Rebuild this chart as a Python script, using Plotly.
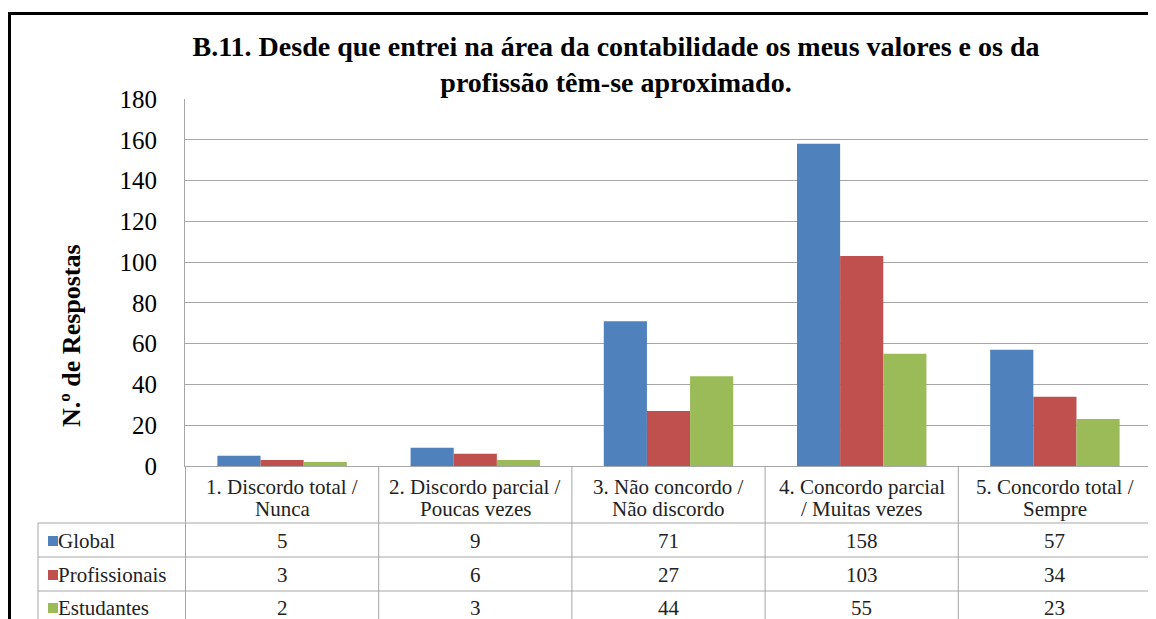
import plotly.graph_objects as go

W, H = 1156, 619
OFF = 8  # page body margin around the plot div

categorias = ["1. Discordo total /<br>Nunca",
              "2. Discordo parcial /<br>Poucas vezes",
              "3. Não concordo /<br>Não discordo",
              "4. Concordo parcial<br>/ Muitas vezes",
              "5. Concordo total /<br>Sempre"]
series = ["Global", "Profissionais", "Estudantes"]
global_vals = [5, 9, 71, 158, 57]
profissionais = [3, 6, 27, 103, 34]
estudantes = [2, 3, 44, 55, 23]
cores = ["#4F81BD", "#C0504D", "#9BBB59"]
titulo = "B.11. Desde que entrei na área da contabilidade os meus valores e os da<br>profissão têm-se aproximado."

valores = [global_vals, profissionais, estudantes]

# page pixel -> paper fraction (figure has no margins)
def px_x(p):
    return (p - OFF) / W

def px_y(p):
    return 1 - (p - OFF) / H

grelha = "#A6A6A6"
serif = "Liberation Serif, Times New Roman, serif"
fs_tab = 21

fig = go.Figure()
for nome, vals, cor in zip(series, valores, cores):
    fig.add_trace(go.Bar(x=categorias, y=vals, name=nome, marker_color=cor,
                         marker_line_width=0))

shapes = []
annotations = []

# table: horizontal lines
for yy in [523, 557, 591]:
    shapes.append(dict(type="line", xref="paper", yref="paper",
                       x0=px_x(38), x1=px_x(1152), y0=px_y(yy), y1=px_y(yy),
                       line=dict(color=grelha, width=1)))
# left edge of row header column
shapes.append(dict(type="line", xref="paper", yref="paper",
                   x0=px_x(38), x1=px_x(38), y0=px_y(523), y1=px_y(640),
                   line=dict(color=grelha, width=1)))
# vertical lines between categories
for i in range(len(categorias) + 1):
    shapes.append(dict(type="line", xref="x", yref="paper",
                       x0=i - 0.5, x1=i - 0.5, y0=px_y(466), y1=px_y(640),
                       line=dict(color=grelha, width=1)))

# category header text, one annotation per line
for i, c in enumerate(categorias):
    for linha, yy in zip(c.split("<br>"), [487, 509]):
        annotations.append(dict(x=i, xref="x", y=px_y(yy), yref="paper",
                                text=linha, showarrow=False,
                                xanchor="center", yanchor="middle",
                                font=dict(family=serif, size=fs_tab, color="#222")))

# rows
linhas_y = [541, 575, 608]
for nome, vals, cor, yy in zip(series, valores, cores, linhas_y):
    shapes.append(dict(type="rect", xref="paper", yref="paper",
                       x0=px_x(48), x1=px_x(58), y0=px_y(yy - 5), y1=px_y(yy + 5),
                       fillcolor=cor, line=dict(width=0)))
    annotations.append(dict(x=px_x(56), xref="paper", y=px_y(yy), yref="paper",
                            text=nome, showarrow=False, xanchor="left", yanchor="middle",
                            font=dict(family=serif, size=fs_tab, color="#222")))
    for i, v in enumerate(vals):
        annotations.append(dict(x=i, xref="x", y=px_y(yy), yref="paper",
                                text=str(v), showarrow=False,
                                xanchor="center", yanchor="middle",
                                font=dict(family=serif, size=fs_tab, color="#222")))

# y axis title
annotations.append(dict(x=px_x(71), xref="paper", y=px_y(336), yref="paper",
                        text="<b>N.º de Respostas</b>", showarrow=False,
                        textangle=-90, xanchor="center", yanchor="middle",
                        font=dict(family=serif, size=26, color="#000")))

# outer frame
shapes.append(dict(type="line", xref="paper", yref="paper",
                   x0=px_x(9.5), x1=px_x(1170), y0=px_y(13.5), y1=px_y(13.5),
                   line=dict(color="#000", width=3)))
shapes.append(dict(type="line", xref="paper", yref="paper",
                   x0=px_x(9.5), x1=px_x(9.5), y0=px_y(12), y1=px_y(640),
                   line=dict(color="#000", width=3)))

fig.update_layout(
    width=W, height=H,
    margin=dict(l=0, r=0, t=0, b=0, pad=0, autoexpand=False),
    paper_bgcolor="white", plot_bgcolor="white",
    showlegend=False,
    barmode="group", bargap=0.33, bargroupgap=0,
    title=dict(text="<b>" + titulo + "</b>", x=px_x(616), xanchor="center",
               y=px_y(56), yanchor="middle", automargin=False,
               font=dict(family=serif, size=28, color="#000")),
    shapes=shapes, annotations=annotations,
    xaxis=dict(domain=[px_x(185), px_x(1152)], showticklabels=False,
               showline=True, linecolor=grelha, linewidth=1,
               showgrid=False, ticks="", automargin=False),
    yaxis=dict(domain=[px_y(466), px_y(99)], range=[0, 180], dtick=20,
               showgrid=True, gridcolor=grelha, gridwidth=1,
               showline=True, linecolor=grelha, linewidth=1,
               zeroline=False, ticks="", ticklabelstandoff=22, automargin=False,
               tickfont=dict(family=serif, size=25, color="#000")),
)

fig.write_html("out.html")
